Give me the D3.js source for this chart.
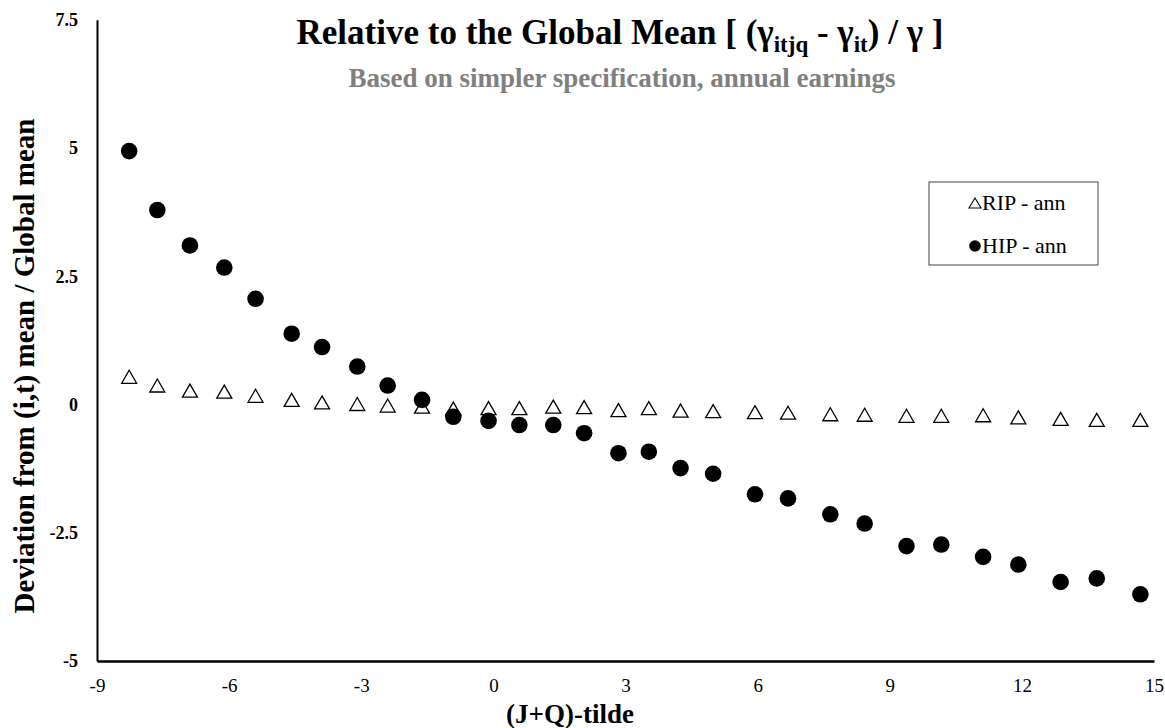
<!DOCTYPE html>
<html>
<head>
<meta charset="utf-8">
<script src="https://cdn.jsdelivr.net/npm/d3@7"></script>
<style>
  html, body { margin: 0; padding: 0; background: #fff; }
  svg { display: block; }
</style>
</head>
<body>
<svg id="chart" width="1165" height="728"></svg>
<script>
// ---- data ----
const jqTilde = [-8.27, -7.63, -6.89, -6.11, -5.40, -4.58, -3.89, -3.09, -2.40, -1.62,
                 -0.91, -0.11, 0.59, 1.36, 2.06, 2.84, 3.53, 4.25, 4.99, 5.94,
                 6.69, 7.65, 8.43, 9.38, 10.17, 11.12, 11.92, 12.88, 13.70, 14.69];
const ripAnn = [0.54, 0.37, 0.27, 0.25, 0.17, 0.09, 0.04, 0.01, -0.02, -0.04,
                -0.08, -0.07, -0.07, -0.04, -0.05, -0.11, -0.07, -0.12, -0.13, -0.15,
                -0.16, -0.19, -0.20, -0.22, -0.22, -0.21, -0.25, -0.28, -0.30, -0.30];
const hipAnn = [4.94, 3.79, 3.10, 2.67, 2.06, 1.38, 1.12, 0.74, 0.37, 0.09,
                -0.24, -0.32, -0.40, -0.40, -0.56, -0.95, -0.92, -1.24, -1.35, -1.75,
                -1.83, -2.14, -2.32, -2.76, -2.73, -2.97, -3.12, -3.46, -3.39, -3.70];
const seriesNames = ["RIP - ann", "HIP - ann"];
const xTicks = [-9, -6, -3, 0, 3, 6, 9, 12, 15];
const yTicks = [-5, -2.5, 0, 2.5, 5, 7.5];
const titleText = "Relative to the Global Mean";
const subtitleText = "Based on simpler specification, annual earnings";
const xTitle = "(J+Q)-tilde";
const yTitle = "Deviation from (i,t) mean / Global mean";

const FONT = "'Liberation Serif', Tinos, 'Times New Roman', Times, 'DejaVu Serif', serif";

// ---- layout ----
const svg = d3.select("#chart").style("font-family", FONT);
const x = d3.scaleLinear().domain([-9, 15]).range([97, 1154]);
const y = d3.scaleLinear().domain([-5, 7.5]).range([661, 19.75]);

// axes
const xAxis = svg.append("g")
  .attr("transform", `translate(0,${y(-5)})`)
  .call(d3.axisBottom(x).tickValues(xTicks).tickSize(0).tickPadding(18)
        .tickFormat(d => String(d)));
xAxis.attr("font-family", FONT);
xAxis.select(".domain").attr("stroke", "#000").attr("stroke-width", 2.5);
xAxis.selectAll("text").attr("font-size", 19).attr("fill", "#000")
  .style("font-family", FONT);

const yAxis = svg.append("g")
  .attr("transform", `translate(${x(-9)},0)`)
  .call(d3.axisLeft(y).tickValues(yTicks).tickSize(0).tickPadding(19)
        .tickFormat(d => String(d)));
yAxis.attr("font-family", FONT);
yAxis.select(".domain").attr("stroke", "#000").attr("stroke-width", 2);
yAxis.selectAll("text").attr("font-size", 18).attr("font-weight", "bold").attr("fill", "#000")
  .style("font-family", FONT);

// ---- marks ----
const triPath = (cx, cy, w, h) =>
  `M${cx},${cy - h / 2}L${cx + w / 2},${cy + h / 2}L${cx - w / 2},${cy + h / 2}Z`;

svg.append("g").selectAll("path")
  .data(jqTilde.map((d, i) => ({ x: d, y: ripAnn[i] })))
  .join("path")
  .attr("d", d => triPath(x(d.x), y(d.y), 15, 13))
  .attr("fill", "#fff").attr("stroke", "#000").attr("stroke-width", 1.3);

svg.append("g").selectAll("circle")
  .data(jqTilde.map((d, i) => ({ x: d, y: hipAnn[i] })))
  .join("circle")
  .attr("cx", d => x(d.x)).attr("cy", d => y(d.y)).attr("r", 8.3)
  .attr("fill", "#000");

// ---- titles ----
const t = svg.append("text").attr("x", 620).attr("y", 44).attr("text-anchor", "middle")
  .style("font-family", FONT)
  .attr("font-size", 35).attr("font-weight", "bold").attr("fill", "#000");
t.append("tspan").text(titleText + " [ (γ");
t.append("tspan").attr("dy", 8).attr("font-size", 23).text("itjq");
t.append("tspan").attr("dy", -8).text(" - γ");
t.append("tspan").attr("dy", 8).attr("font-size", 23).text("it");
t.append("tspan").attr("dy", -8).text(") / γ ]");

svg.append("text").attr("x", 622).attr("y", 87).attr("text-anchor", "middle")
  .style("font-family", FONT)
  .attr("font-size", 27).attr("font-weight", "bold").attr("fill", "#808080")
  .text(subtitleText);

svg.append("text").attr("x", 570).attr("y", 723).attr("text-anchor", "middle")
  .style("font-family", FONT)
  .attr("font-size", 27).attr("font-weight", "bold").attr("fill", "#000")
  .text(xTitle);

svg.append("text").attr("transform", "translate(34,366) rotate(-90)")
  .attr("text-anchor", "middle")
  .style("font-family", FONT)
  .attr("font-size", 29).attr("font-weight", "bold").attr("fill", "#000")
  .text(yTitle);

// ---- legend ----
const lg = svg.append("g");
lg.append("rect").attr("x", 929).attr("y", 182).attr("width", 169).attr("height", 83)
  .attr("fill", "#fff").attr("stroke", "#444").attr("stroke-width", 1);
const items = lg.selectAll("g.item").data(seriesNames).join("g")
  .attr("class", "item")
  .attr("transform", (d, i) => `translate(975,${203 + i * 43})`);
items.filter((d, i) => i === 0).append("path")
  .attr("d", triPath(0, 0, 12, 10)).attr("fill", "#fff")
  .attr("stroke", "#000").attr("stroke-width", 1.1);
items.filter((d, i) => i === 1).append("circle")
  .attr("r", 5.8).attr("fill", "#000");
items.append("text").attr("x", 7).attr("y", 7)
  .style("font-family", FONT)
  .attr("font-size", 22).attr("fill", "#000").text(d => d);
</script>
</body>
</html>
